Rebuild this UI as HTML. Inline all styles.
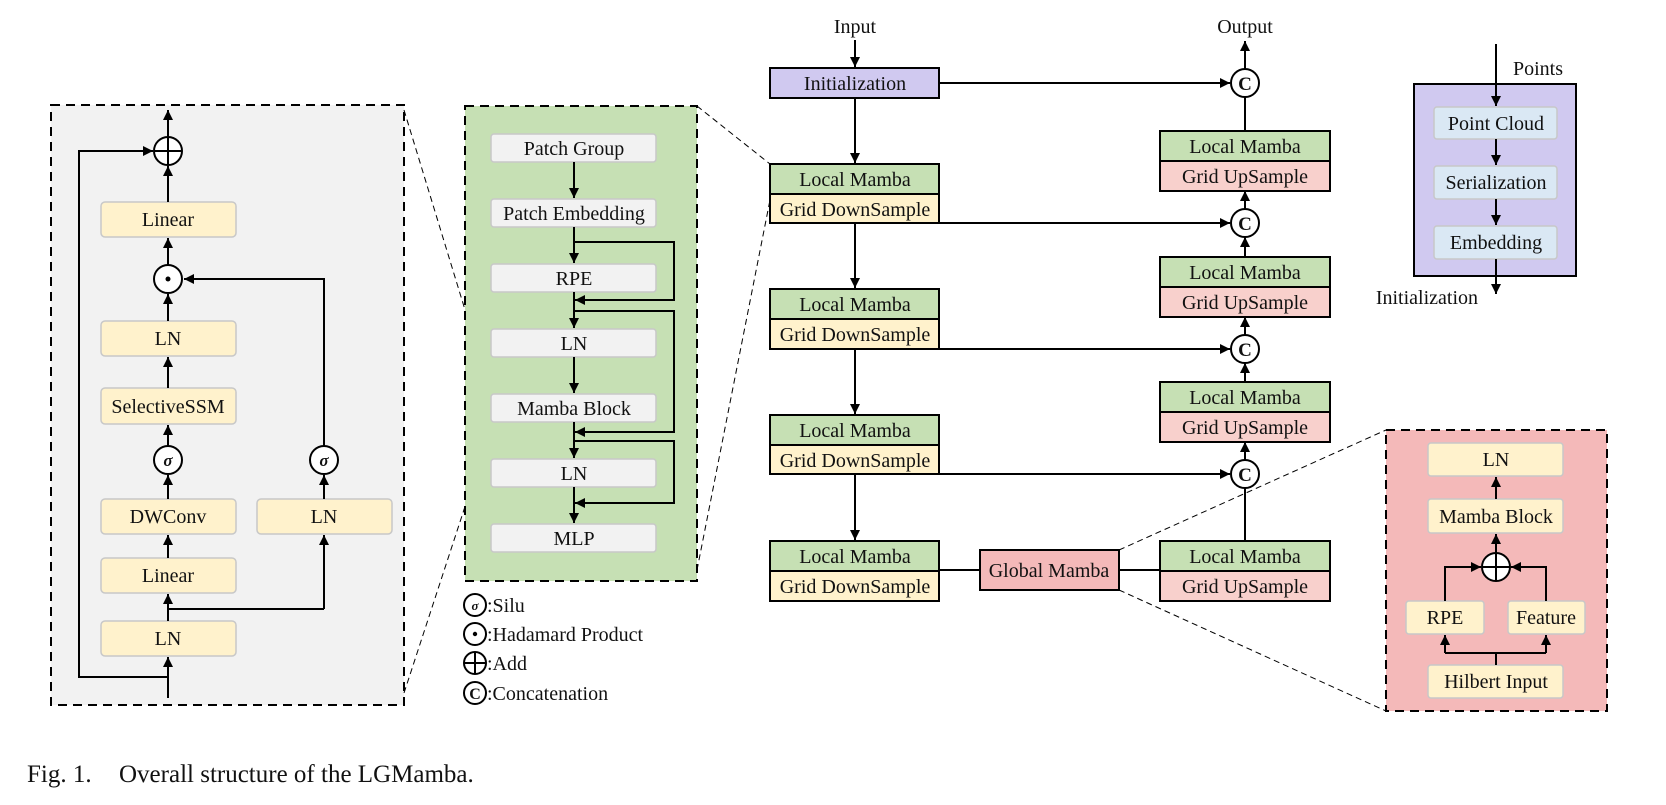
<!DOCTYPE html>
<html><head><meta charset="utf-8"><style>
html,body{margin:0;padding:0;background:#fff;}
svg{display:block;}
text{font-family:"Liberation Serif",serif;fill:#111;}
</style></head><body>
<svg width="1666" height="805" viewBox="0 0 1666 805" xmlns="http://www.w3.org/2000/svg">
<defs>
<marker id="a" markerUnits="userSpaceOnUse" markerWidth="12" markerHeight="12" refX="10" refY="5" orient="auto"><path d="M0,0 L10,5 L0,10 z" fill="#000"/></marker>
</defs>
<g font-size="20" text-anchor="middle">

<!-- LEFT GRAY PANEL -->
<rect x="51" y="105" width="353" height="600" fill="#f2f2f2" stroke="#000" stroke-width="2" stroke-dasharray="9,6"/>
<g fill="#fff2cc" stroke="#c8c8c8" stroke-width="1.5">
<rect x="101" y="202" width="135" height="35" rx="4"/>
<rect x="101" y="321" width="135" height="35" rx="4"/>
<rect x="101" y="388" width="135" height="36" rx="4"/>
<rect x="101" y="499" width="135" height="35" rx="4"/>
<rect x="101" y="558" width="135" height="35" rx="4"/>
<rect x="101" y="621" width="135" height="35" rx="4"/>
<rect x="257" y="499" width="135" height="35" rx="4"/>
</g>
<text x="168" y="226">Linear</text>
<text x="168" y="345">LN</text>
<text x="168" y="413">SelectiveSSM</text>
<text x="168" y="523">DWConv</text>
<text x="168" y="582">Linear</text>
<text x="168" y="645">LN</text>
<text x="324" y="523">LN</text>
<g stroke="#000" stroke-width="2" fill="none">
<line x1="168" y1="698" x2="168" y2="657" marker-end="url(#a)"/>
<line x1="168" y1="621" x2="168" y2="594" marker-end="url(#a)"/>
<line x1="168" y1="609" x2="324" y2="609"/>
<line x1="324" y1="609" x2="324" y2="535" marker-end="url(#a)"/>
<line x1="168" y1="558" x2="168" y2="535" marker-end="url(#a)"/>
<line x1="168" y1="499" x2="168" y2="475" marker-end="url(#a)"/>
<line x1="168" y1="446" x2="168" y2="425" marker-end="url(#a)"/>
<line x1="168" y1="388" x2="168" y2="357" marker-end="url(#a)"/>
<line x1="168" y1="321" x2="168" y2="294" marker-end="url(#a)"/>
<line x1="168" y1="265" x2="168" y2="238" marker-end="url(#a)"/>
<line x1="168" y1="202" x2="168" y2="166" marker-end="url(#a)"/>
<line x1="168" y1="137" x2="168" y2="110" marker-end="url(#a)"/>
<line x1="324" y1="499" x2="324" y2="475" marker-end="url(#a)"/>
<polyline points="324,446 324,279 184,279" marker-end="url(#a)"/>
<polyline points="168,677 79,677 79,151 153,151" marker-end="url(#a)"/>
<circle cx="168" cy="151" r="14" fill="#fff"/>
<line x1="154" y1="151" x2="182" y2="151"/><line x1="168" y1="137" x2="168" y2="165"/>
<circle cx="168" cy="279" r="14" fill="#fff"/>
<circle cx="168" cy="460" r="14" fill="#fff"/>
<circle cx="324" cy="460" r="14" fill="#fff"/>
</g>
<circle cx="168" cy="279" r="2.5" fill="#000"/>
<text x="168" y="466" font-style="italic" font-weight="bold" font-size="17">σ</text>
<text x="324" y="466" font-style="italic" font-weight="bold" font-size="17">σ</text>

<!-- zoom dashed lines -->
<g stroke="#000" stroke-width="1" stroke-dasharray="6,4" fill="none">
<line x1="404" y1="110" x2="491" y2="395"/>
<line x1="404" y1="693" x2="493" y2="421"/>
<line x1="697" y1="106" x2="770" y2="164"/>
<line x1="697" y1="570" x2="770" y2="200"/>
<line x1="1119" y1="550" x2="1386" y2="430"/>
<line x1="1119" y1="590" x2="1386" y2="711"/>
</g>

<!-- GREEN PANEL -->
<rect x="465" y="106" width="232" height="475" fill="#c6e0b4" stroke="#000" stroke-width="2" stroke-dasharray="9,6"/>
<g fill="#f2f2f2" stroke="#c8c8c8" stroke-width="1.5">
<rect x="491" y="134" width="165" height="28" rx="3"/>
<rect x="491" y="199" width="165" height="28" rx="3"/>
<rect x="491" y="264" width="165" height="28" rx="3"/>
<rect x="491" y="329" width="165" height="28" rx="3"/>
<rect x="491" y="394" width="165" height="28" rx="3"/>
<rect x="491" y="459" width="165" height="28" rx="3"/>
<rect x="491" y="524" width="165" height="28" rx="3"/>
</g>
<text x="574" y="155">Patch Group</text>
<text x="574" y="220">Patch Embedding</text>
<text x="574" y="285">RPE</text>
<text x="574" y="350">LN</text>
<text x="574" y="415">Mamba Block</text>
<text x="574" y="480">LN</text>
<text x="574" y="545">MLP</text>
<g stroke="#000" stroke-width="2" fill="none">
<line x1="574" y1="162" x2="574" y2="198" marker-end="url(#a)"/>
<line x1="574" y1="227" x2="574" y2="263" marker-end="url(#a)"/>
<line x1="574" y1="292" x2="574" y2="328" marker-end="url(#a)"/>
<line x1="574" y1="357" x2="574" y2="393" marker-end="url(#a)"/>
<line x1="574" y1="422" x2="574" y2="458" marker-end="url(#a)"/>
<line x1="574" y1="487" x2="574" y2="523" marker-end="url(#a)"/>
<polyline points="574,242 674,242 674,300 575,300" marker-end="url(#a)"/>
<polyline points="574,311 674,311 674,432 575,432" marker-end="url(#a)"/>
<polyline points="574,441 674,441 674,503 575,503" marker-end="url(#a)"/>
</g>

<!-- legend -->
<g stroke="#000" stroke-width="2" fill="#fff">
<circle cx="475" cy="605" r="11"/><circle cx="475" cy="634" r="11"/><circle cx="475" cy="663" r="11"/><circle cx="475" cy="693" r="11"/>
<line x1="464" y1="663" x2="486" y2="663"/><line x1="475" y1="652" x2="475" y2="674"/>
</g>
<circle cx="475" cy="634" r="2.2" fill="#000"/>
<text x="475" y="610" font-style="italic" font-weight="bold" font-size="13">σ</text>
<text x="475" y="699" font-weight="bold" font-size="16">C</text>
<g text-anchor="start" font-size="20">
<text x="487" y="612">:Silu</text>
<text x="487" y="641">:Hadamard Product</text>
<text x="487" y="670">:Add</text>
<text x="487" y="700">:Concatenation</text>
</g>

<!-- MAIN NETWORK -->
<text x="855" y="33">Input</text>
<text x="1245" y="33">Output</text>
<rect x="770" y="68" width="169" height="30" fill="#d0c9f0" stroke="#000" stroke-width="2"/>
<text x="855" y="90">Initialization</text>
<g stroke="#000" stroke-width="2">
<rect x="770" y="164" width="169" height="30" fill="#c6e0b4"/><rect x="770" y="194" width="169" height="29" fill="#fff2cc"/>
<rect x="770" y="289" width="169" height="30" fill="#c6e0b4"/><rect x="770" y="319" width="169" height="30" fill="#fff2cc"/>
<rect x="770" y="415" width="169" height="30" fill="#c6e0b4"/><rect x="770" y="445" width="169" height="29" fill="#fff2cc"/>
<rect x="770" y="541" width="169" height="30" fill="#c6e0b4"/><rect x="770" y="571" width="169" height="30" fill="#fff2cc"/>
<rect x="1160" y="131" width="170" height="30" fill="#c6e0b4"/><rect x="1160" y="161" width="170" height="30" fill="#f8d0cc"/>
<rect x="1160" y="257" width="170" height="30" fill="#c6e0b4"/><rect x="1160" y="287" width="170" height="30" fill="#f8d0cc"/>
<rect x="1160" y="382" width="170" height="30" fill="#c6e0b4"/><rect x="1160" y="412" width="170" height="30" fill="#f8d0cc"/>
<rect x="1160" y="541" width="170" height="30" fill="#c6e0b4"/><rect x="1160" y="571" width="170" height="30" fill="#f8d0cc"/>
<rect x="980" y="550" width="139" height="40" fill="#f4b9b9"/>
</g>
<g>
<text x="855" y="186">Local Mamba</text><text x="855" y="216">Grid DownSample</text>
<text x="855" y="311">Local Mamba</text><text x="855" y="341">Grid DownSample</text>
<text x="855" y="437">Local Mamba</text><text x="855" y="467">Grid DownSample</text>
<text x="855" y="563">Local Mamba</text><text x="855" y="593">Grid DownSample</text>
<text x="1245" y="153">Local Mamba</text><text x="1245" y="183">Grid UpSample</text>
<text x="1245" y="279">Local Mamba</text><text x="1245" y="309">Grid UpSample</text>
<text x="1245" y="404">Local Mamba</text><text x="1245" y="434">Grid UpSample</text>
<text x="1245" y="563">Local Mamba</text><text x="1245" y="593">Grid UpSample</text>
<text x="1049" y="577">Global Mamba</text>
</g>
<g stroke="#000" stroke-width="2" fill="none">
<line x1="855" y1="40" x2="855" y2="67" marker-end="url(#a)"/>
<line x1="855" y1="98" x2="855" y2="163" marker-end="url(#a)"/>
<line x1="855" y1="223" x2="855" y2="288" marker-end="url(#a)"/>
<line x1="855" y1="349" x2="855" y2="414" marker-end="url(#a)"/>
<line x1="855" y1="474" x2="855" y2="540" marker-end="url(#a)"/>
<line x1="939" y1="83" x2="1230" y2="83" marker-end="url(#a)"/>
<line x1="939" y1="223" x2="1230" y2="223" marker-end="url(#a)"/>
<line x1="939" y1="349" x2="1230" y2="349" marker-end="url(#a)"/>
<line x1="939" y1="474" x2="1230" y2="474" marker-end="url(#a)"/>
<line x1="939" y1="570" x2="980" y2="570"/>
<line x1="1119" y1="570" x2="1160" y2="570"/>
<line x1="1245" y1="69" x2="1245" y2="41" marker-end="url(#a)"/>
<line x1="1245" y1="131" x2="1245" y2="97"/>
<line x1="1245" y1="209" x2="1245" y2="191" marker-end="url(#a)"/>
<line x1="1245" y1="257" x2="1245" y2="237" marker-end="url(#a)"/>
<line x1="1245" y1="335" x2="1245" y2="317" marker-end="url(#a)"/>
<line x1="1245" y1="382" x2="1245" y2="363" marker-end="url(#a)"/>
<line x1="1245" y1="460" x2="1245" y2="442" marker-end="url(#a)"/>
<line x1="1245" y1="541" x2="1245" y2="488"/>
</g>
<g stroke="#000" stroke-width="2" fill="#fff">
<circle cx="1245" cy="83" r="14"/><circle cx="1245" cy="223" r="14"/><circle cx="1245" cy="349" r="14"/><circle cx="1245" cy="474" r="14"/>
</g>
<g font-weight="bold" font-size="19">
<text x="1245" y="90">C</text><text x="1245" y="230">C</text><text x="1245" y="356">C</text><text x="1245" y="481">C</text>
</g>

<!-- PURPLE INIT PANEL -->
<rect x="1414" y="84" width="162" height="192" fill="#d0c9f0" stroke="#000" stroke-width="2"/>
<g fill="#dae8f4" stroke="#c8c8c8" stroke-width="1.5">
<rect x="1434" y="107" width="123" height="32" rx="3"/>
<rect x="1434" y="166" width="123" height="33" rx="3"/>
<rect x="1434" y="226" width="123" height="33" rx="3"/>
</g>
<text x="1496" y="130">Point Cloud</text>
<text x="1496" y="189">Serialization</text>
<text x="1496" y="249">Embedding</text>
<text x="1513" y="75" text-anchor="start">Points</text>
<text x="1478" y="304" text-anchor="end">Initialization</text>
<g stroke="#000" stroke-width="2">
<line x1="1496" y1="44" x2="1496" y2="106" marker-end="url(#a)"/>
<line x1="1496" y1="139" x2="1496" y2="165" marker-end="url(#a)"/>
<line x1="1496" y1="199" x2="1496" y2="225" marker-end="url(#a)"/>
<line x1="1496" y1="259" x2="1496" y2="294" marker-end="url(#a)"/>
</g>

<!-- PINK GLOBAL PANEL -->
<rect x="1386" y="430" width="221" height="281" fill="#f4b9b9" stroke="#000" stroke-width="2" stroke-dasharray="9,6"/>
<g fill="#fff2cc" stroke="#c8c8c8" stroke-width="1.5">
<rect x="1428" y="443" width="135" height="33" rx="3"/>
<rect x="1428" y="499" width="135" height="34" rx="3"/>
<rect x="1406" y="601" width="78" height="33" rx="3"/>
<rect x="1508" y="601" width="77" height="33" rx="3"/>
<rect x="1428" y="665" width="135" height="33" rx="3"/>
</g>
<text x="1496" y="466">LN</text>
<text x="1496" y="523">Mamba Block</text>
<text x="1445" y="624">RPE</text>
<text x="1546" y="624">Feature</text>
<text x="1496" y="688">Hilbert Input</text>
<g stroke="#000" stroke-width="2" fill="none">
<line x1="1496" y1="499" x2="1496" y2="477" marker-end="url(#a)"/>
<line x1="1496" y1="553" x2="1496" y2="534" marker-end="url(#a)"/>
<polyline points="1445,601 1445,567 1481,567" marker-end="url(#a)"/>
<polyline points="1546,601 1546,567 1511,567" marker-end="url(#a)"/>
<line x1="1496" y1="665" x2="1496" y2="653"/>
<polyline points="1445,653 1546,653"/>
<line x1="1445" y1="653" x2="1445" y2="635" marker-end="url(#a)"/>
<line x1="1546" y1="653" x2="1546" y2="635" marker-end="url(#a)"/>
<circle cx="1496" cy="567" r="14" fill="#fff"/>
<line x1="1482" y1="567" x2="1510" y2="567"/><line x1="1496" y1="553" x2="1496" y2="581"/>
</g>
</g>

<text x="27" y="782" font-size="25">Fig. 1.<tspan x="119">Overall structure of the LGMamba.</tspan></text>
</svg>
</body></html>
